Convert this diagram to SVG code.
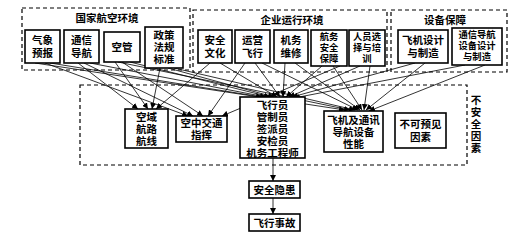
<svg xmlns="http://www.w3.org/2000/svg" width="532" height="239" viewBox="0 0 532 239">
<defs>
<style>
.dash{fill:none;stroke:#000;stroke-width:1.2;stroke-dasharray:4,3}
.box{fill:#fff;stroke:#000;stroke-width:1.6}
.t{font-family:"Liberation Sans","Noto Sans CJK SC",sans-serif;font-size:10.5px;font-weight:bold;text-anchor:middle;fill:#000}
.s{font-size:9.3px}
.h{font-family:"Liberation Sans","Noto Sans CJK SC",sans-serif;font-size:10.5px;font-weight:bold;text-anchor:middle;fill:#000}
.c line{stroke:#000;stroke-width:0.8;marker-end:url(#a)}
</style>
<marker id="a" viewBox="0 0 10 10" refX="10" refY="5" markerWidth="6" markerHeight="6" orient="auto" markerUnits="userSpaceOnUse">
<path d="M0,0 L10,5 L0,10 z" fill="#000"/>
</marker>
</defs>
<rect width="532" height="239" fill="#fff"/>

<g id="group-national">
<rect class="dash" x="22" y="8" width="168" height="62"/>
<text class="h" x="107" y="22">国家航空环境</text>
</g>
<g id="group-enterprise">
<rect class="dash" x="193" y="10" width="194" height="62"/>
<text class="h" x="292" y="24">企业运行环境</text>
</g>
<g id="group-equipment">
<rect class="dash" x="391" y="10" width="116" height="62"/>
<text class="h" x="445" y="24">设备保障</text>
</g>
<g id="group-unsafe">
<rect class="dash" x="80" y="85" width="387" height="80"/>
<text class="h" x="476" y="104">不</text>
<text class="h" x="476" y="116">安</text>
<text class="h" x="476" y="128">全</text>
<text class="h" x="476" y="140">因</text>
<text class="h" x="476" y="152">素</text>
</g>

<g class="c" id="connectors">
<line x1="45" y1="63" x2="188" y2="116"/>
<line x1="50" y1="63" x2="262" y2="97"/>
<line x1="35" y1="63" x2="345" y2="110"/>
<line x1="78" y1="63" x2="138" y2="109"/>
<line x1="84" y1="63" x2="193" y2="116"/>
<line x1="90" y1="63" x2="266" y2="97"/>
<line x1="115" y1="62" x2="148" y2="109"/>
<line x1="122" y1="62" x2="203" y2="116"/>
<line x1="130" y1="62" x2="270" y2="97"/>
<line x1="118" y1="62" x2="350" y2="110"/>
<line x1="160" y1="68" x2="152" y2="109"/>
<line x1="168" y1="68" x2="274" y2="97"/>
<line x1="174" y1="68" x2="355" y2="110"/>
<line x1="210" y1="63" x2="156" y2="109"/>
<line x1="220" y1="63" x2="277" y2="97"/>
<line x1="245" y1="63" x2="208" y2="116"/>
<line x1="255" y1="63" x2="280" y2="97"/>
<line x1="262" y1="63" x2="358" y2="110"/>
<line x1="285" y1="63" x2="283" y2="97"/>
<line x1="295" y1="63" x2="360" y2="110"/>
<line x1="322" y1="66" x2="286" y2="97"/>
<line x1="333" y1="66" x2="362" y2="110"/>
<line x1="340" y1="66" x2="222" y2="116"/>
<line x1="360" y1="66" x2="289" y2="97"/>
<line x1="370" y1="66" x2="364" y2="110"/>
<line x1="415" y1="63" x2="292" y2="97"/>
<line x1="425" y1="63" x2="366" y2="110"/>
<line x1="465" y1="65" x2="294" y2="98"/>
<line x1="485" y1="65" x2="369" y2="111"/>
<line x1="273" y1="158" x2="273" y2="181"/>
<line x1="273" y1="198" x2="273" y2="214"/>
</g>

<g id="n-qixiang"><rect class="box" x="25" y="30" width="35" height="33"/><text class="t" x="42.5" y="44">气象</text><text class="t" x="42.5" y="57">预报</text></g>
<g id="n-tongxin"><rect class="box" x="64" y="30" width="35" height="33"/><text class="t" x="81.5" y="44">通信</text><text class="t" x="81.5" y="57">导航</text></g>
<g id="n-kongguan"><rect class="box" x="104" y="32" width="36" height="30"/><text class="t" x="122" y="51">空管</text></g>
<g id="n-zhengce"><rect class="box" x="145" y="27" width="38" height="41"/><text class="t" x="164" y="39">政策</text><text class="t" x="164" y="51">法规</text><text class="t" x="164" y="63">标准</text></g>

<g id="n-anquan"><rect class="box" x="198" y="30" width="34" height="33"/><text class="t" x="215" y="44">安全</text><text class="t" x="215" y="57">文化</text></g>
<g id="n-yunying"><rect class="box" x="235" y="30" width="35" height="33"/><text class="t" x="252.5" y="44">运营</text><text class="t" x="252.5" y="57">飞行</text></g>
<g id="n-jiwu"><rect class="box" x="274" y="30" width="34" height="33"/><text class="t" x="291" y="44">机务</text><text class="t" x="291" y="57">维修</text></g>
<g id="n-hangwu"><rect class="box" x="311" y="30" width="36" height="36"/><text class="t s" x="329" y="40">航务</text><text class="t s" x="329" y="51">安全</text><text class="t s" x="329" y="62">保障</text></g>
<g id="n-renyuan"><rect class="box" x="349" y="30" width="36" height="36"/><text class="t s" x="367" y="40">人员选</text><text class="t s" x="367" y="51">择与培</text><text class="t s" x="367" y="62">训</text></g>

<g id="n-feiji"><rect class="box" x="398" y="30" width="50" height="33"/><text class="t" x="423" y="44">飞机设计</text><text class="t" x="423" y="57">与制造</text></g>
<g id="n-tongxinsb"><rect class="box" x="452" y="28" width="50" height="37"/><text class="t s" x="477" y="38">通信导航</text><text class="t s" x="477" y="49">设备设计</text><text class="t s" x="477" y="60">与制造</text></g>

<g id="n-kongyu"><rect class="box" x="125" y="109" width="43" height="39"/><text class="t" x="146.5" y="121">空域</text><text class="t" x="146.5" y="133">航路</text><text class="t" x="146.5" y="145">航线</text></g>
<g id="n-kongzhong"><rect class="box" x="176" y="116" width="51" height="26"/><text class="t" x="201.5" y="127">空中交通</text><text class="t" x="201.5" y="139">指挥</text></g>
<g id="n-feixingyuan"><rect class="box" x="240" y="97" width="65" height="61"/><text class="t" x="272.5" y="109">飞行员</text><text class="t" x="272.5" y="121">管制员</text><text class="t" x="272.5" y="133">签派员</text><text class="t" x="272.5" y="145">安检员</text><text class="t" x="272.5" y="157">机务工程师</text></g>
<g id="n-feijixn"><rect class="box" x="324" y="111" width="59" height="41"/><text class="t" x="353.5" y="124">飞机及通讯</text><text class="t" x="353.5" y="136">导航设备</text><text class="t" x="353.5" y="148">性能</text></g>
<g id="n-bukeyujian"><rect class="box" x="395" y="113" width="51" height="35"/><text class="t" x="420.5" y="128">不可预见</text><text class="t" x="420.5" y="141">因素</text></g>

<g id="n-yinhuan"><rect class="box" x="249" y="181" width="51" height="17"/><text class="t" x="274.5" y="193.5">安全隐患</text></g>
<g id="n-shigu"><rect class="box" x="249" y="214" width="51" height="17"/><text class="t" x="274.5" y="226.5">飞行事故</text></g>
</svg>
